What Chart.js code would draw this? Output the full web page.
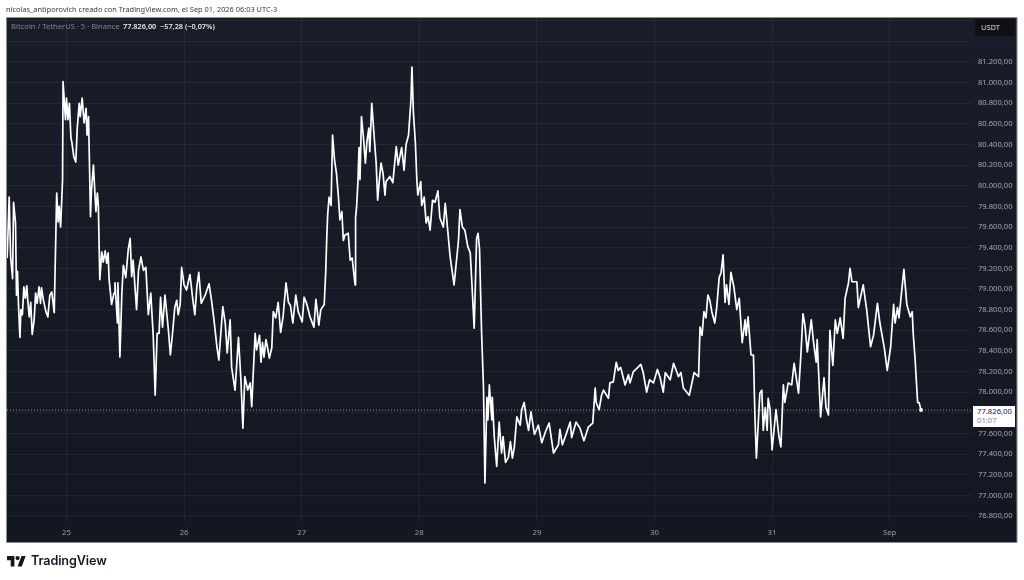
<!DOCTYPE html>
<html>
<head>
<meta charset="utf-8">
<script src="https://cdn.jsdelivr.net/npm/chart.js@4/dist/chart.umd.min.js"></script>
<style>
html, body { margin: 0; padding: 0; background: #fff; }
#wrap { position: relative; width: 1024px; height: 580px; overflow: hidden; font-family: "Noto Sans", sans-serif; }
canvas { position: absolute; left: 0; top: 0; }
.t { position: absolute; white-space: nowrap; }
#credit { left: 6px; top: 3px; font-size: 7.4px; line-height: 12px; color: #3a3a3a; }
#title { left: 11px; top: 20px; font-size: 7.6px; line-height: 12px; color: #80848e; }
#quote { left: 123px; top: 20px; font-size: 7.3px; line-height: 12px; color: #e4e6ea; font-weight: 600; }
#unit { left: 975px; top: 19px; width: 40px; height: 17px; line-height: 17px; background: #0f1014; border-radius: 2px; color: #d6d8dd; font-size: 7.4px; text-indent: 6px; }
#last { left: 973px; top: 406px; width: 38px; height: 20px; background: #fff; color: #16181f; font-size: 7.7px; line-height: 9.5px; padding: 0.5px 0 0 4px; }
#last span { color: #80848e; }
#brand { left: 31px; top: 551px; font-family: Inter, sans-serif; font-size: 12.6px; line-height: 20px; font-weight: 600; color: #131722; letter-spacing: -0.1px; }
#logo { position: absolute; left: 7px; top: 556px; }
</style>
</head>
<body>
<div id="wrap">
<canvas id="chart" width="1024" height="580"></canvas>
<div class="t" id="credit">nicolas_antiporovich creado con TradingView.com, el Sep 01, 2026 06:03 UTC-3</div>
<div class="t" id="title">Bitcoin / TetherUS · 5 · Binance</div>
<div class="t" id="quote">77.826,00 &nbsp;−57,28 (−0,07%)</div>
<div class="t" id="unit">USDT</div>
<div class="t" id="last">77.826,00<br><span>01:07</span></div>
<svg id="logo" width="19" height="10.500" viewBox="0 4 36 20"><path fill="#131722" d="M14 24H7V12H0V4h14zM28 24h-8l7.500-20h8z"/><circle fill="#131722" cx="20" cy="8" r="4"/></svg>
<div class="t" id="brand">TradingView</div>
</div>
<script>
// hours since 25 Aug 00:00
const hours = [
-12.1,-11.9,-11.7,-11.4,-11.0,-10.8,-10.4,-10.2,-10.0,-9.8,-9.5,-9.3,-9.0,-8.7,-8.4,-8.1,-7.9,-7.6,-7.3,-7.0,
-6.6,-6.3,-6.0,-5.6,-5.3,-5.1,-4.7,-4.2,-3.8,-3.4,-3.0,-2.5,-2.0,-1.7,-1.5,-1.2,-0.8,-0.7,-0.2,0.0,
0.3,0.6,0.9,1.1,1.5,1.9,2.2,2.6,2.8,3.2,3.6,4.0,4.2,4.5,4.9,5.1,5.5,6.0,6.3,6.5,
6.8,7.2,7.5,7.9,8.2,8.5,8.7,9.2,9.7,9.9,10.4,10.5,10.9,11.3,11.6,12.1,12.6,13.0,13.3,13.6,
14.3,14.7,15.2,15.7,16.2,16.7,17.2,17.7,18.1,18.5,18.9,19.2,19.6,20.1,20.8,21.2,21.7,22.1,22.5,22.8,
23.2,23.5,24.0,24.5,25.2,25.8,26.2,26.6,27.0,27.5,28.3,29.1,29.6,30.1,30.7,31.1,31.9,32.4,32.8,33.4,
33.7,34.4,35.1,35.6,36.0,36.4,37.0,37.5,37.8,38.5,38.8,39.4,39.7,40.0,40.3,40.7,41.0,41.4,41.9,42.2,
42.7,43.2,43.7,44.2,44.8,45.3,45.7,46.2,46.8,47.3,48.1,48.5,49.0,49.7,50.5,50.9,51.5,51.9,52.6,52.9,
53.1,53.3,53.6,54.0,54.3,54.7,55.1,55.5,55.8,56.2,56.5,56.8,57.5,57.9,58.3,58.9,59.0,59.2,59.5,59.7,
59.9,60.2,60.6,61.0,61.3,61.7,61.9,62.3,62.8,63.2,63.5,63.8,64.2,64.6,65.0,65.2,66.0,66.6,67.3,67.7,
68.4,68.9,69.3,69.8,70.3,70.5,70.8,71.2,71.5,71.7,72.3,72.5,73.0,73.4,73.8,74.2,74.7,75.2,75.8,76.2,
76.9,77.3,77.8,78.3,79.1,80.0,80.3,80.8,81.3,81.9,82.4,82.7,83.2,83.7,84.0,84.3,84.4,84.7,85.1,85.4,
85.8,86.0,86.3,86.8,86.9,87.3,87.8,88.3,88.8,89.1,89.6,90.2,90.6,91.0,91.4,91.9,92.6,92.9,93.4,93.9,
94.3,94.8,95.5,96.3,97.0,97.7,98.5,99.4,100.4,100.7,101.2,102.1,102.8,103.1,104.0,104.8,105.6,106.5,107.4,107.9,
108.1,108.7,109.2,109.6,110.6,110.9,111.6,112.2,112.6,113.1,114.0,114.7,115.0,115.7,116.4,117.2,117.7,118.4,119.0,119.8,
120.6,121.1,121.8,122.2,123.2,123.9,124.9,125.4,125.9,127.1,128.1,129.0,129.3,129.7,130.1,130.5,130.9,131.3,131.7,132.3,
132.7,133.2,133.6,134.0,134.4,134.7,135.2,135.6,136.2,136.8,137.3,137.9,138.5,138.7,139.1,139.7,140.2,140.5,140.8,141.5,
141.9,142.2,142.6,143.0,143.2,143.6,144.0,144.8,145.4,145.8,146.3,146.6,147.3,148.0,148.5,149.4,149.9,150.3,150.7,151.2,
152.0,152.4,153.0,153.2,153.9,154.6,155.0,155.5,155.8,156.4,156.9,157.3,157.9,158.5,158.9,159.6,159.9,160.3,161.3,161.6,
162.6,163.3,164.1,164.7,165.5,166.0,166.9,167.5,168.2,168.8,169.1,169.6,169.9,170.3,170.9,171.5,172.2,172.6,172.8,173.2,
173.7,174.0,174.4
];
const prices = [
79300,79600,79890,79310,79100,79840,79640,78940,79170,78850,78530,78800,78750,79020,78910,79030,78890,78730,78870,78560,
78700,78960,78860,79020,78860,79010,78890,78780,78730,78940,78970,78770,79930,79650,79800,79600,80060,81010,80640,80850,
80640,80800,80470,80420,80280,80230,80560,80800,80670,80850,80610,80750,80490,80670,79700,79960,80200,79750,79930,79810,
79090,79360,79260,79370,79250,79350,79090,78850,78960,79060,78670,79060,78340,78960,79230,79110,79380,79490,79120,79280,
78800,79180,79310,79180,79210,78750,78960,78550,77970,78570,78570,78920,78630,78940,78600,78360,78600,78820,78890,78750,
78850,79210,79040,78990,79140,78890,78750,79020,79160,78860,78940,79050,78890,78700,78440,78310,78830,78670,78380,78700,
78240,78020,78530,78120,77650,78150,78020,78090,77860,78570,78410,78550,78290,78480,78340,78510,78440,78330,78430,78780,
78720,78870,78580,78730,79060,78870,78840,78670,78940,78780,78680,78920,78860,78730,78630,78900,78650,78800,78850,79160,
79470,79720,79890,79810,80490,80250,80120,79890,79670,79750,79470,79520,79540,79280,79300,79040,79690,79790,80060,80370,
80060,80670,80470,80220,80420,80560,80330,80800,80470,80220,79860,80030,80220,80120,79910,80040,80090,80030,80380,80200,
80370,80150,80400,80490,80830,81150,80710,80420,80060,79910,80040,79810,79890,79640,79700,79570,79860,79840,79950,79690,
79600,79830,79570,79310,79040,79470,79770,79600,79570,79410,79350,79090,78620,79490,79540,79380,79180,78600,78050,77120,
77950,77730,78070,77730,77950,77570,77280,77710,77410,77570,77320,77370,77520,77360,77470,77760,77680,77830,77900,77730,
77630,77810,77590,77680,77510,77610,77700,77410,77490,77640,77490,77610,77710,77560,77710,77650,77530,77660,77700,78040,
77900,77830,77970,78020,77940,78090,78100,78290,78210,78240,78070,78170,78090,78200,78230,78270,78190,78000,78120,78090,
78220,78150,78000,78190,78120,78280,78150,78190,78040,77970,78190,78150,78630,78550,78780,78720,78940,78890,78780,78670,
78820,79110,79160,79330,78870,79040,78850,79160,79020,78800,78910,78480,78700,78550,78730,78360,78360,77760,77360,77990,
78020,77630,77850,77630,77940,77830,77440,77830,77570,77470,78070,77900,78090,78070,78280,77990,78380,78760,78650,78390,
78700,78510,78290,78510,77760,78140,77850,77780,78600,78260,78700,78570,78720,78520,78910,79060,79200,79070,79070,78820,
79040,78800,78440,78550,78860,78670,78430,78210,78440,78850,78670,78820,78720,78910,79190,78850,78730,78780,78570,78310,
77900,77900,77826
];
const dayTicks = [0, 24, 48, 72, 96, 120, 144, 168];
const dayLabels = ['25', '26', '27', '28', '29', '30', '31', 'Sep'];
const priceTicks = [76800,77000,77200,77400,77600,77800,78000,78200,78400,78600,78800,79000,79200,79400,79600,79800,80000,80200,80400,80600,80800,81000,81200,81400,81600];
const lastPrice = 77826;
const xRange = [-12.14, 184.8];
const yRange = [76732, 81626];

// dark panel and its frame behind the axes
const panel = {
    id: 'panel',
    beforeDraw(chart) {
        const c = chart.ctx;
        const grad = c.createLinearGradient(0, 17, 0, 542);
        grad.addColorStop(0, '#191d29');
        grad.addColorStop(1, '#131722');
        c.save();
        c.fillStyle = grad;
        c.fillRect(6.5, 17, 1010.5, 525);
        c.strokeStyle = '#8b8d92';
        c.lineWidth = 1;
        c.strokeRect(6.5, 17.5, 1010.5, 525);
        c.restore();
    }
};

const last = prices.length - 1;
new Chart(document.getElementById('chart').getContext('2d'), {
    type: 'line',
    plugins: [panel],
    data: {
        datasets: [{
            data: hours.map((h, i) => ({ x: h, y: prices[i] })),
            borderColor: '#ffffff',
            borderWidth: 1.7,
            borderJoinStyle: 'round',
            tension: 0,
            pointRadius: ctx => ctx.dataIndex === last ? 2 : 0,
            pointBackgroundColor: '#ffffff',
            pointBorderWidth: 0
        }, {
            // dotted last price line
            data: xRange.map(x => ({ x: x, y: lastPrice })),
            borderColor: '#9a9ca3',
            borderWidth: 1,
            borderDash: [1, 2],
            pointRadius: 0
        }]
    },
    options: {
        responsive: false,
        animation: false,
        layout: { padding: { left: 7, top: 18, right: 7, bottom: 38 } },
        plugins: { legend: { display: false }, tooltip: { enabled: false } },
        scales: {
            x: {
                type: 'linear',
                min: xRange[0],
                max: xRange[1],
                afterBuildTicks: s => { s.ticks = dayTicks.map(v => ({ value: v })); },
                afterFit: s => { s.height = 19; },
                grid: { color: 'rgba(255,255,255,0.055)', drawTicks: false },
                border: { display: false },
                ticks: {
                    color: '#9a9da6',
                    font: { family: '"Noto Sans"', size: 7.8 },
                    padding: 5,
                    autoSkip: false,
                    maxRotation: 0,
                    callback: v => dayLabels[dayTicks.indexOf(v)]
                }
            },
            y: {
                position: 'right',
                min: yRange[0],
                max: yRange[1],
                afterBuildTicks: s => { s.ticks = priceTicks.map(v => ({ value: v })); },
                afterFit: s => { s.width = 45; },
                grid: { color: 'rgba(255,255,255,0.055)', drawTicks: false },
                border: { display: false },
                ticks: {
                    color: '#a4a7af',
                    font: { family: '"Noto Sans"', size: 7.6 },
                    padding: 6,
                    autoSkip: false,
                    crossAlign: 'near',
                    callback: v => v > 81200 ? '' : v.toLocaleString('de-DE', { minimumFractionDigits: 2 })
                }
            }
        }
    }
});
</script>
</body>
</html>
